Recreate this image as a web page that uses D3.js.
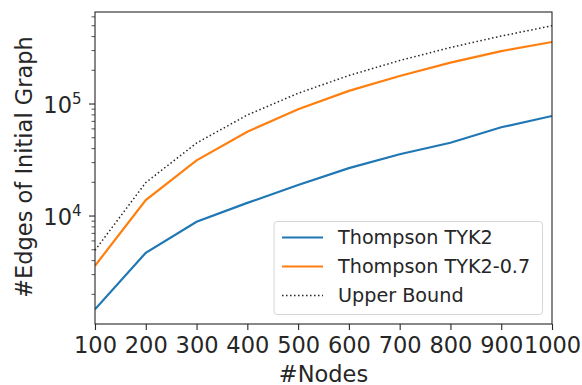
<!DOCTYPE html>
<html>
<head>
<meta charset="utf-8">
<script src="https://cdn.jsdelivr.net/npm/d3@7"></script>
<style>
  body { margin: 0; background: #fff; }
  text { font-family: "DejaVu Sans", sans-serif; fill: #262626; }
</style>
</head>
<body>
<svg id="chart"></svg>
<script>
// values
var nodes = [100, 200, 300, 400, 500, 600, 700, 800, 900, 1000];
var tyk2 = [1470, 4700, 8900, 13100, 18900, 26800, 35600, 45100, 62000, 78200];
var tyk207 = [3600, 13900, 31400, 56600, 89700, 131000, 178000, 234000, 297000, 358000];
var upper = [4950, 19900, 44850, 79800, 124750, 179700, 244650, 319600, 404550, 499500];
var seriesNames = ["Thompson TYK2", "Thompson TYK2-0.7", "Upper Bound"];
var xTicks = [100, 200, 300, 400, 500, 600, 700, 800, 900, 1000];

var width = 582, height = 385;
var margin = {left: 95, right: 30, top: 12, bottom: 61};

var svg = d3.select("#chart").attr("width", width).attr("height", height);

var x = d3.scaleLinear().domain([100, 1000]).range([margin.left, width - margin.right]);
var y = d3.scaleLog().domain([1087, 663000]).range([height - margin.bottom, margin.top]);

var g = svg.append("g");

// lines
var line = d3.line().x((d, i) => x(nodes[i])).y(d => y(d));
var series = [
  {name: seriesNames[0], data: tyk2, color: "#1f77b4", width: 2.2, dash: null},
  {name: seriesNames[1], data: tyk207, color: "#ff7f0e", width: 2.2, dash: null},
  {name: seriesNames[2], data: upper, color: "#262626", width: 1.5, dash: "1.5,2.5"}
];

svg.append("clipPath").attr("id", "clip").append("rect")
  .attr("x", margin.left).attr("y", margin.top)
  .attr("width", width - margin.left - margin.right)
  .attr("height", height - margin.top - margin.bottom);

series.forEach(s => {
  g.append("path")
    .attr("d", line(s.data))
    .attr("fill", "none")
    .attr("stroke", s.color)
    .attr("stroke-width", s.width)
    .attr("stroke-dasharray", s.dash)
    .attr("clip-path", "url(#clip)");
});

// x axis
var xAxis = g.append("g")
  .attr("transform", "translate(0," + (height - margin.bottom) + ")")
  .call(d3.axisBottom(x).tickValues(xTicks).tickSize(6).tickPadding(7).tickFormat(d3.format("d")));
xAxis.select(".domain").remove();
xAxis.selectAll("line").attr("stroke", "#262626").attr("stroke-width", 1.1);
xAxis.selectAll("text").style("font-size", "22.5px").attr("fill", "#262626");

// y axis minor ticks
var minor = [];
[1000, 10000, 100000].forEach(b => d3.range(2, 10).forEach(k => {
  var v = b * k;
  if (v >= y.domain()[0] && v <= y.domain()[1]) minor.push(v);
}));
g.selectAll(".minor").data(minor).enter().append("line")
  .attr("x1", margin.left - 3.5).attr("x2", margin.left)
  .attr("y1", d => y(d)).attr("y2", d => y(d))
  .attr("stroke", "#262626").attr("stroke-width", 0.8);

// y axis major ticks
var major = [10000, 100000];
g.selectAll(".major").data(major).enter().append("line")
  .attr("x1", margin.left - 6).attr("x2", margin.left)
  .attr("y1", d => y(d)).attr("y2", d => y(d))
  .attr("stroke", "#262626").attr("stroke-width", 1.1);
var ylab = g.selectAll(".ylab").data(major).enter().append("text")
  .attr("x", margin.left - 13.5).attr("y", d => y(d) + 9.3)
  .attr("text-anchor", "end")
  .style("font-size", "22.5px");
ylab.append("tspan").text("10");
ylab.append("tspan").attr("dy", -9.3).style("font-size", "15px").text(d => Math.round(Math.log10(d)));

// frame
g.append("rect")
  .attr("x", margin.left).attr("y", margin.top)
  .attr("width", width - margin.left - margin.right)
  .attr("height", height - margin.top - margin.bottom)
  .attr("fill", "none").attr("stroke", "#262626").attr("stroke-width", 1.1);

// axis titles
svg.append("text")
  .attr("x", (margin.left + width - margin.right) / 2).attr("y", 381.5)
  .attr("text-anchor", "middle").style("font-size", "22.5px").text("#Nodes");
svg.append("text")
  .attr("transform", "translate(31.5,167)rotate(-90)")
  .attr("text-anchor", "middle").style("font-size", "22.5px").text("#Edges of Initial Graph");

// legend
var lg = svg.append("g");
lg.append("rect")
  .attr("x", 274).attr("y", 221.5).attr("width", 268.5).attr("height", 93)
  .attr("rx", 3).attr("fill", "#fff").attr("fill-opacity", 0.8)
  .attr("stroke", "#d6d6d6").attr("stroke-width", 1);
series.forEach((s, i) => {
  var ly = 237.5 + i * 29;
  lg.append("line")
    .attr("x1", 282).attr("x2", 323).attr("y1", ly).attr("y2", ly)
    .attr("stroke", s.color).attr("stroke-width", s.width)
    .attr("stroke-dasharray", s.dash);
  lg.append("text")
    .attr("x", 338).attr("y", ly + 6.8)
    .style("font-size", "19.2px").text(s.name);
});
</script>
</body>
</html>
